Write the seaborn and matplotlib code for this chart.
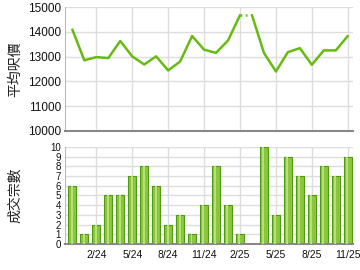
import matplotlib
matplotlib.use("Agg")
import matplotlib.pyplot as plt
import seaborn as sns
import pandas as pd
import numpy as np

months = ["12/23", "1/24", "2/24", "3/24", "4/24", "5/24", "6/24", "7/24", "8/24", "9/24",
          "10/24", "11/24", "12/24", "1/25", "2/25", "3/25", "4/25", "5/25", "6/25", "7/25",
          "8/25", "9/25", "10/25", "11/25"]
avg_price = [14090, 12850, 12980, 12940, 13630, 13010, 12680, 13010, 12440, 12800,
             13830, 13280, 13150, 13650, 14670, 14670, 13150, 12400, 13180, 13340,
             12670, 13250, 13250, 13830]
transactions = [6, 1, 2, 5, 5, 7, 8, 6, 2, 3, 1, 4, 8, 4, 1, 0, 10, 3, 9, 7, 5, 8, 7, 9]
tick_labels = ["2/24", "5/24", "8/24", "11/24", "2/25", "5/25", "8/25", "11/25"]

df = pd.DataFrame({"month": months, "idx": np.arange(len(months)),
                   "price": avg_price, "count": transactions})

sns.set_style("white")
plt.rcParams['font.family'] = ['Liberation Sans', 'Noto Sans CJK TC', 'DejaVu Sans']

fig = plt.figure(figsize=(3.6, 2.7), dpi=100)
ax1 = fig.add_axes([0.181, 0.515, 0.800, 0.459])
ax2 = fig.add_axes([0.181, 0.096, 0.800, 0.360])

green = "#66bb11"
grid_c = "#dddddd"

# top line chart
gap = 15  # month shown with carried value (dotted)
sns.lineplot(data=df.iloc[:gap], x="idx", y="price", ax=ax1, color=green, lw=1.8)
sns.lineplot(data=df.iloc[gap - 1:gap + 1], x="idx", y="price", ax=ax1, color=green,
             lw=1.8, linestyle=(0, (0.7, 1.4)))
sns.lineplot(data=df.iloc[gap:], x="idx", y="price", ax=ax1, color=green, lw=1.8)
ax1.set_ylim(10000, 15000)
ax1.set_yticks(range(10000, 15001, 1000))
ax1.set_xlim(-0.6, 23.45)
tick_pos = [months.index(t) for t in tick_labels]
ax1.set_xticks(tick_pos)
ax1.set_xticklabels([])
ax1.set_xlabel("")
ax1.set_ylabel("平均呎價", fontsize=10, family=['Noto Sans CJK TC', 'DejaVu Sans'])

# bottom bar chart
sns.barplot(data=df, x="idx", y="count", ax=ax2, color="#8cc63f", width=0.66,
            edgecolor="#4f9a10", linewidth=0.8, saturation=1)
for p in ax2.patches:
    x0 = p.get_x(); w = p.get_width(); h = p.get_height()
    if h > 0:
        ax2.add_patch(plt.Rectangle((x0 + w * 0.3, 0), w * 0.25, h, color="#b5e07a", lw=0, zorder=3))
ax2.set_ylim(0, 10)
ax2.set_yticks(range(0, 11))
ax2.set_xlim(-0.6, 23.45)
ax2.set_xticks(tick_pos)
ax2.set_xticklabels(tick_labels)
ax2.set_xlabel("")
ax2.set_ylabel("成交宗數", fontsize=10, family=['Noto Sans CJK TC', 'DejaVu Sans'])

for ax in (ax1, ax2):
    ax.grid(True, color=grid_c, lw=1)
    ax.set_axisbelow(True)
    for s in ("top", "right"):
        ax.spines[s].set_visible(False)
    ax.spines["left"].set_color("#bbbbbb")
    ax.spines["bottom"].set_color("#888888")
    ax.spines["bottom"].set_linewidth(1.5)
    ax.tick_params(axis="x", labelsize=7.5, length=3, pad=1, colors="#111111", color="#888888")
    ax.yaxis.label.set_color("#222222")
    ax.yaxis.set_label_coords(-0.15, 0.5)
ax1.tick_params(axis="y", labelsize=8.5, length=2, pad=1, colors="#111111", color="#bbbbbb")
ax2.tick_params(axis="y", labelsize=7, length=2, pad=1, colors="#111111", color="#bbbbbb")
ax1.tick_params(axis="x", length=0)

fig.savefig("out.png", dpi=100)
